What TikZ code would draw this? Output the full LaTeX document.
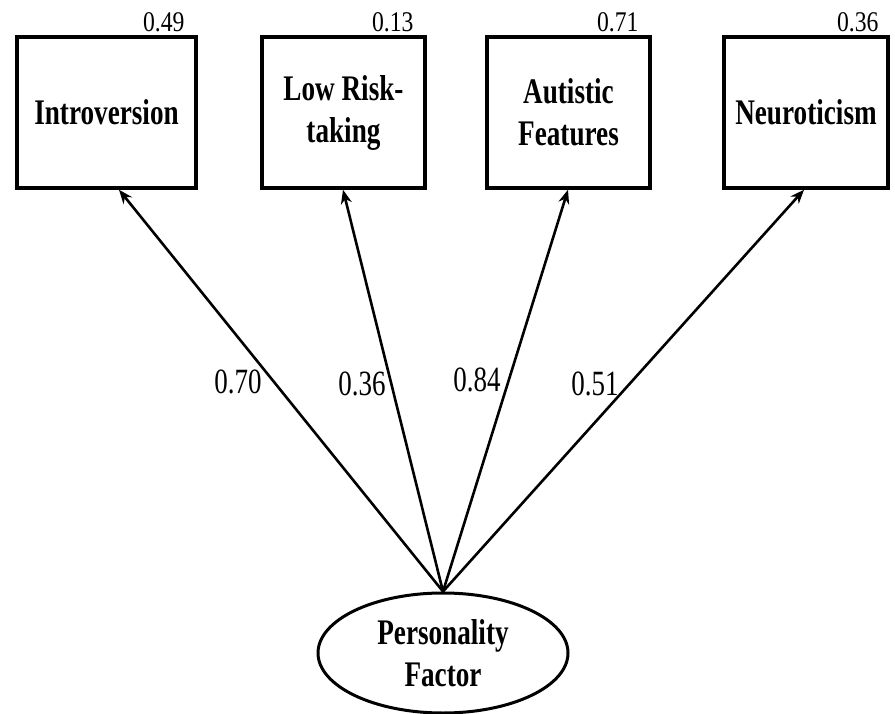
\documentclass[tikz,border=0pt]{standalone}
\usepackage{fontspec}
\setmainfont{Liberation Serif}
\newfontfamily\boxfont[FakeStretch=0.755]{Liberation Serif}
\newfontfamily\loadfont[FakeStretch=0.76]{Liberation Serif}
\newfontfamily\errfont[FakeStretch=0.83]{Liberation Serif}
\usetikzlibrary{arrows.meta,shapes.geometric}

\tikzset{
  indicator/.style={draw, line width=3.5pt, rectangle, inner sep=0pt,
    minimum height=151pt, align=center,
    font=\boxfont\bfseries\fontsize{36}{42}\selectfont},
  latent/.style={draw, line width=3pt, ellipse, inner sep=0pt,
    minimum width=250pt, minimum height=120pt, align=center,
    font=\boxfont\bfseries\fontsize{36}{42}\selectfont},
  path/.style={line width=2.6pt, -{Stealth[length=14pt,width=11pt]}},
  loading/.style={inner sep=0pt, font=\loadfont\fontsize{35.5}{40}\selectfont},
  errvar/.style={inner sep=0pt, anchor=base east,
    font=\errfont\fontsize{28.5}{32}\selectfont}
}

\begin{document}
\begin{tikzpicture}[x=1pt, y=-1pt]
\useasboundingbox (0,0) rectangle (895,714);

% observed indicators
\node[indicator, minimum width=179pt] (intro) at (106.5,112.5) {Introversion};
\node[indicator, minimum width=163pt] (risk)  at (343.5,112.5) {Low Risk-\\taking};
\node[indicator, minimum width=163pt] (aut)   at (568.5,112.5) {Autistic\\Features};
\node[indicator, minimum width=164pt] (neuro) at (806,112.5)   {Neuroticism};

% residual variances
\node[errvar] (eintro) at ([xshift=-13pt,yshift=4pt]intro.north east) {0.49};
\node[errvar] (erisk)  at ([xshift=-13pt,yshift=4pt]risk.north east)  {0.13};
\node[errvar] (eaut)   at ([xshift=-13pt,yshift=4pt]aut.north east)   {0.71};
\node[errvar] (eneuro) at ([xshift=-11pt,yshift=4pt]neuro.north east) {0.36};

% latent factor
\node[latent] (pf) at (443,653) {Personality\\Factor};

% factor loadings
\draw[path] (pf.north) -- ([xshift=12.5pt]intro.south);
\draw[path] (pf.north) -- ([xshift=-0.5pt]risk.south);
\draw[path] (pf.north) -- ([xshift=-0.5pt]aut.south);
\draw[path] (pf.north) -- ([xshift=-2pt]neuro.south);

\node[loading] (lintro) at (238,382) {0.70};
\node[loading] (lrisk)  at (362,384) {0.36};
\node[loading] (laut)   at (477,380) {0.84};
\node[loading] (lneuro) at (595,384) {0.51};
\end{tikzpicture}
\end{document}
